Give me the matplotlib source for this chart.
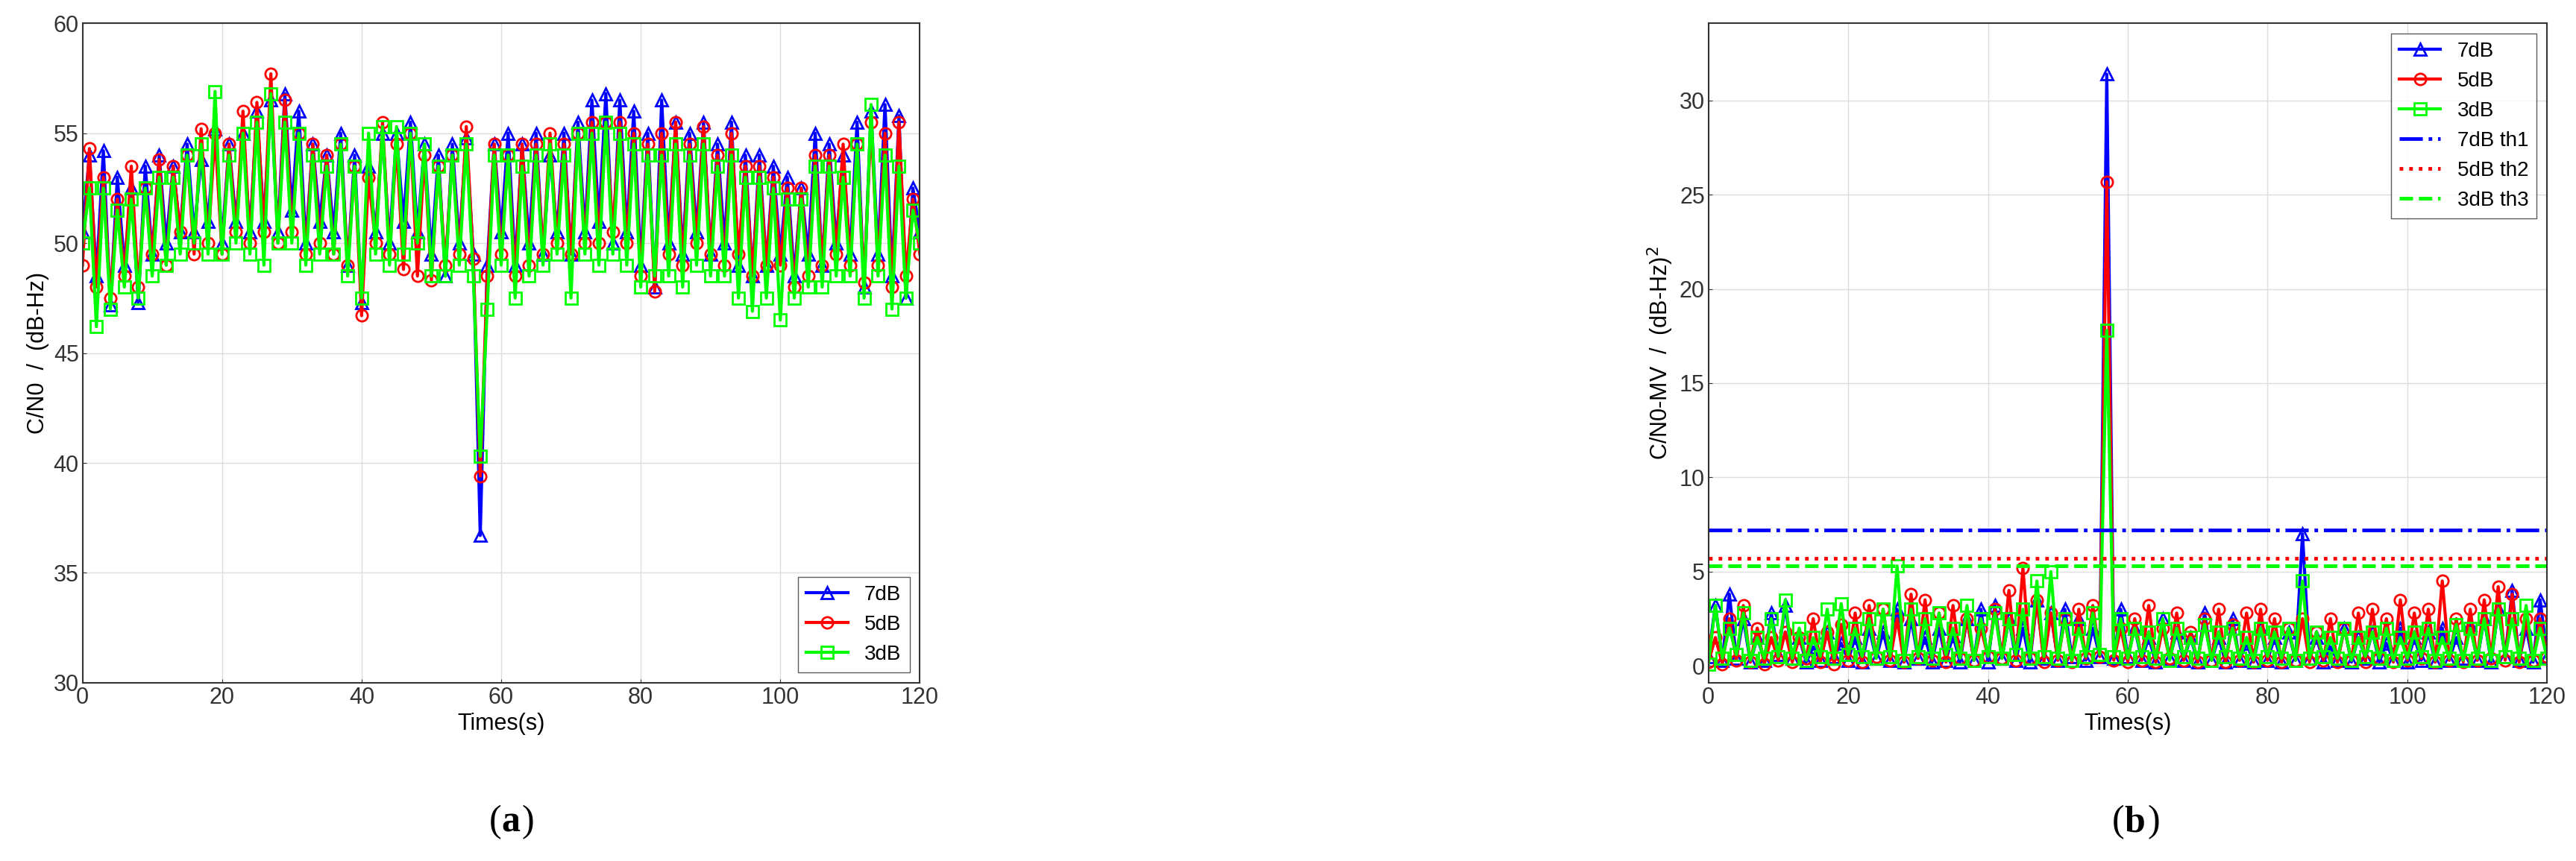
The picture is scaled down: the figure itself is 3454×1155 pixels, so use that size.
import numpy as np
import matplotlib
matplotlib.use('Agg')
import matplotlib.pyplot as plt

plt.rcParams['font.family'] = ['Liberation Sans', 'DejaVu Sans']
plt.rcParams['font.size'] = 22

t = np.arange(121)

# panel (a): C/N0
a_7db = [50.5,54.0,48.5,54.2,47.2,53.0,49.0,52.5,47.3,53.5,
         49.5,54.0,50.0,53.5,50.5,54.5,50.5,53.8,51.0,55.2,
         50.0,54.5,51.0,55.0,50.5,56.0,51.0,56.5,50.5,56.8,
         51.5,56.0,50.0,54.5,51.0,54.0,50.5,55.0,49.0,54.0,
         47.3,53.5,50.5,55.0,50.0,55.0,51.0,55.5,50.5,54.5,
         49.5,54.0,48.5,54.5,50.0,54.8,49.5,36.7,49.0,54.5,
         50.5,55.0,49.0,54.5,50.0,55.0,49.5,54.0,50.5,55.0,
         49.5,55.5,50.5,56.5,51.0,56.8,50.0,56.5,50.5,56.0,
         49.0,55.0,48.0,56.5,50.0,55.5,49.5,55.0,50.5,55.5,
         49.5,54.5,50.0,55.5,49.0,54.0,48.5,54.0,49.0,53.5,
         49.5,53.0,48.5,52.5,49.5,55.0,49.0,54.5,50.0,54.0,
         49.5,55.5,48.0,56.0,49.5,56.3,48.5,55.8,47.5,52.5,
         50.5]
a_5db = [49.0,54.3,48.0,53.0,47.5,52.0,48.5,53.5,48.0,52.5,
         49.5,53.8,49.0,53.5,50.5,54.0,49.5,55.2,50.0,55.0,
         49.5,54.5,50.5,56.0,50.0,56.4,50.5,57.7,50.0,56.5,
         50.5,55.0,49.5,54.5,50.0,54.0,49.5,54.5,49.0,53.5,
         46.7,53.0,50.0,55.5,49.5,54.5,48.8,55.0,48.5,54.0,
         48.3,53.5,49.0,54.0,49.5,55.3,49.3,39.4,48.5,54.5,
         49.5,54.0,48.5,54.5,49.0,54.5,49.5,55.0,50.0,54.5,
         49.5,55.0,50.0,55.5,50.0,55.5,50.5,55.5,50.0,55.0,
         48.5,54.5,47.8,55.0,49.5,55.5,49.0,54.5,50.0,55.3,
         49.5,54.0,49.0,55.0,49.5,53.5,48.5,53.5,49.0,53.0,
         49.0,52.5,48.0,52.5,48.5,54.0,49.0,54.0,49.5,54.5,
         49.0,54.5,48.2,55.5,49.0,55.0,48.0,55.5,48.5,52.0,
         49.5]
a_3db = [50.0,52.5,46.2,52.5,47.0,51.5,48.0,52.0,47.5,52.5,
         48.5,53.0,49.0,53.0,49.5,54.0,50.0,54.5,49.5,56.9,
         49.5,54.0,50.0,55.0,49.5,55.5,49.0,56.8,50.0,55.5,
         50.0,55.0,49.0,54.0,49.5,53.5,49.5,54.5,48.5,53.5,
         47.5,55.0,49.5,55.3,49.0,55.3,49.5,55.0,50.0,54.5,
         48.5,53.5,48.5,54.0,49.0,54.5,48.5,40.3,47.0,54.0,
         49.0,54.0,47.5,53.5,48.5,54.0,49.0,54.5,49.5,54.0,
         47.5,55.0,49.5,55.0,49.0,55.5,49.5,55.0,49.0,54.5,
         48.0,54.0,48.5,54.0,48.5,54.5,48.0,54.0,49.0,54.5,
         48.5,53.5,48.5,54.0,47.5,53.0,46.9,53.0,47.5,52.5,
         46.5,52.0,47.5,52.0,48.0,53.5,48.0,53.5,48.5,53.0,
         48.5,54.5,47.5,56.3,48.5,54.0,47.0,53.5,47.5,51.5,
         50.0]

# panel (b): C/N0-MV
b_7db = [0.5,3.2,0.3,3.8,0.4,2.5,0.2,1.5,0.3,2.8,
         0.6,3.2,0.4,1.5,0.2,1.0,0.3,1.8,0.5,1.2,
         0.3,1.5,0.2,2.0,0.4,1.8,0.3,3.0,0.2,2.5,
         0.4,1.5,0.2,2.0,0.3,1.6,0.2,2.5,0.3,3.0,
         0.2,3.2,0.4,2.5,0.3,2.0,0.2,3.5,0.4,2.8,
         0.3,3.0,0.5,2.5,0.3,2.0,0.5,31.4,0.4,3.0,
         0.5,2.0,0.3,1.5,0.2,2.5,0.4,1.8,0.3,1.5,
         0.2,2.8,0.3,1.5,0.2,2.5,0.3,1.2,0.2,2.0,
         0.3,1.5,0.2,1.8,0.3,7.0,0.4,1.5,0.2,1.0,
         0.3,2.0,0.2,1.5,0.4,1.8,0.2,1.2,0.3,2.0,
         0.2,1.5,0.3,1.8,0.2,2.0,0.3,1.5,0.4,2.2,
         0.3,2.5,0.2,3.0,0.5,4.0,0.3,2.0,0.2,3.5,
         0.5]
b_5db = [0.2,1.5,0.1,2.5,0.3,3.2,0.2,2.0,0.1,1.5,
         0.3,1.8,0.2,1.5,0.4,2.5,0.2,1.8,0.1,2.2,
         0.3,2.8,0.2,3.2,0.5,3.0,0.3,2.5,0.2,3.8,
         0.4,3.5,0.3,2.8,0.2,3.2,0.4,2.5,0.3,2.0,
         0.5,3.0,0.4,4.0,0.3,5.2,0.4,3.5,0.2,2.8,
         0.3,2.5,0.2,3.0,0.4,3.2,0.5,25.7,0.3,2.0,
         0.2,2.5,0.3,3.2,0.2,2.0,0.4,2.8,0.3,1.8,
         0.2,2.5,0.3,3.0,0.2,2.2,0.3,2.8,0.2,3.0,
         0.3,2.5,0.2,2.0,0.3,2.5,0.2,1.8,0.3,2.5,
         0.2,2.0,0.3,2.8,0.2,3.0,0.4,2.5,0.2,3.5,
         0.3,2.8,0.4,3.0,0.2,4.5,0.3,2.5,0.2,3.0,
         0.3,3.5,0.4,4.2,0.3,3.8,0.2,2.5,0.3,2.5,
         0.5]
b_3db = [0.1,3.2,0.4,2.0,0.6,2.8,0.3,1.5,0.4,2.5,
         0.5,3.5,0.4,2.0,0.3,1.5,0.5,3.0,0.4,3.3,
         0.6,2.0,0.5,2.5,0.4,3.0,0.5,5.3,0.3,3.0,
         0.5,2.5,0.4,2.8,0.6,2.0,0.4,3.2,0.3,2.5,
         0.5,2.8,0.4,2.5,0.6,3.0,0.4,4.5,0.5,5.0,
         0.4,2.5,0.3,2.0,0.5,2.8,0.6,17.8,0.5,2.5,
         0.4,2.0,0.5,1.8,0.4,2.5,0.3,2.0,0.5,1.5,
         0.4,2.2,0.3,1.8,0.5,2.0,0.4,1.5,0.3,2.0,
         0.5,1.8,0.4,2.0,0.3,4.5,0.4,1.8,0.5,1.5,
         0.4,2.0,0.3,1.5,0.5,1.8,0.4,2.0,0.3,1.5,
         0.4,1.8,0.5,2.0,0.3,1.5,0.4,2.2,0.3,2.0,
         0.4,2.5,0.3,3.0,0.5,2.5,0.4,3.2,0.3,2.0,
         0.4]
th1, th2, th3 = 7.2, 5.7, 5.3

labels = ['7dB', '5dB', '3dB']
colors = ['#0000ff', '#ff0000', '#00ff00']
markers = ['^', 'o', 's']

fig = plt.figure(figsize=(34.55, 11.55), dpi=100)
ax1 = fig.add_axes([0.032, 0.207, 0.325, 0.766])
ax2 = fig.add_axes([0.663, 0.207, 0.3255, 0.766])

for ys, c, m, lb in zip([a_7db, a_5db, a_3db], colors, markers, labels):
    ax1.plot(t, ys, color=c, marker=m, mfc='none', ms=11, mew=2, lw=3, label=lb)
for ys, c, m, lb in zip([b_7db, b_5db, b_3db], colors, markers, labels):
    ax2.plot(t, ys, color=c, marker=m, mfc='none', ms=11, mew=2, lw=3, label=lb)
ax2.axhline(th1, color='#0000ff', ls='-.', lw=3.5, label='7dB th1')
ax2.axhline(th2, color='#ff0000', ls=':', lw=3.5, label='5dB th2')
ax2.axhline(th3, color='#00ff00', ls='--', lw=3.5, label='3dB th3')

ax1.set_xlim(0, 120)
ax1.set_ylim(30, 60)
ax1.set_ylabel('C/N0  /  (dB-Hz)')
ax1.legend(loc='lower right', fancybox=False, edgecolor='#333333', fontsize=20)

ax2.set_xlim(0, 120)
ax2.set_ylim(-0.9, 34.1)
ax2.set_yticks(range(0, 31, 5))
ax2.set_ylabel('C/N0-MV  /  (dB-Hz)$^2$')
ax2.legend(loc='upper right', fancybox=False, edgecolor='#333333', fontsize=20)

for ax in (ax1, ax2):
    ax.set_xticks(range(0, 121, 20))
    ax.set_xlabel('Times(s)')
    ax.grid(True, color='#dddddd', lw=1)
    ax.tick_params(direction='in', colors='#333333', labelsize=22)
    for s in ax.spines.values():
        s.set_color('#333333')
        s.set_linewidth(1.5)

fig.text(0.1945, 0.045, '(', family='Liberation Serif', fontsize=36, ha='right', va='center')
fig.text(0.1945, 0.045, 'a', family='Liberation Serif', fontsize=36, weight='bold', ha='left', va='center')
fig.text(0.2025, 0.045, ')', family='Liberation Serif', fontsize=36, ha='left', va='center')
fig.text(0.8245, 0.045, '(', family='Liberation Serif', fontsize=36, ha='right', va='center')
fig.text(0.8245, 0.045, 'b', family='Liberation Serif', fontsize=36, weight='bold', ha='left', va='center')
fig.text(0.8335, 0.045, ')', family='Liberation Serif', fontsize=36, ha='left', va='center')

fig.savefig('out.png', dpi=100)
